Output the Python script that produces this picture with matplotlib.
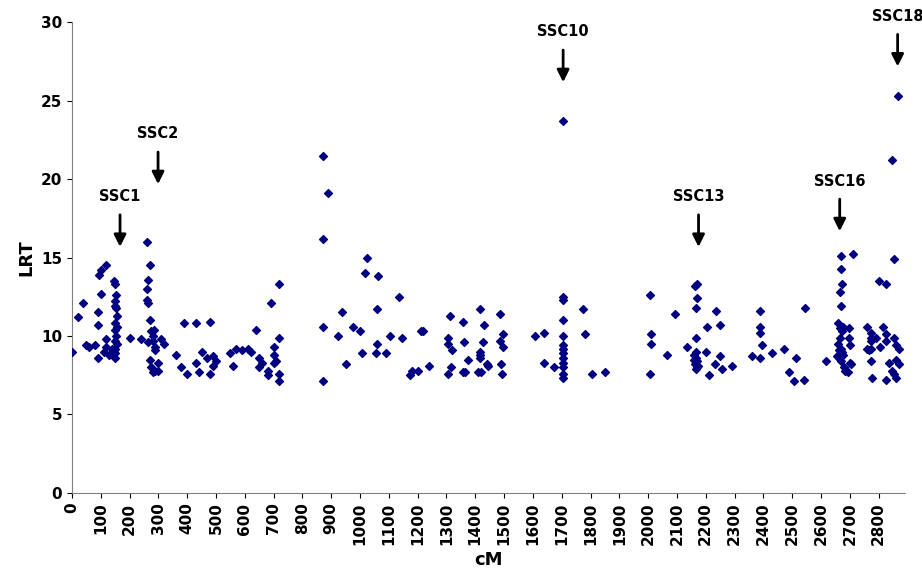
import matplotlib
matplotlib.use('Agg')
import matplotlib.pyplot as plt
import numpy as np

# cM positions and LRT values
cm = [0, 20, 40, 50, 60, 80, 90, 90, 90, 100, 95, 100, 120, 110, 120, 120, 130, 140, 150,
      145, 148, 150, 152, 155, 150, 148, 152, 150, 155, 150, 145, 150, 153, 148, 155,
      200, 240, 260, 260, 270, 265, 260, 265, 270, 280, 275, 280, 290, 290, 270, 275, 280, 290,
      300, 300, 310, 320, 265, 285,
      360, 380, 390, 400, 430, 430, 440, 450, 470, 480, 490, 490, 500, 480, 550, 560, 570,
      590, 610, 620, 640, 650, 650, 660, 680, 680, 690, 700, 700, 710, 720, 720, 720, 720, 700,
      871, 889, 871, 871, 871, 937, 922, 951, 975, 1000, 1008, 1018, 1024, 1055, 1060, 1062,
      1060, 1090, 1105, 1136, 1146, 1174, 1180, 1202, 1212, 1220, 1240,
      1307, 1307, 1312, 1320, 1307, 1315, 1358, 1362, 1358, 1365, 1375, 1417, 1430, 1417,
      1418, 1415, 1410, 1420, 1428, 1440, 1445, 1487, 1487, 1495, 1498, 1490, 1492,
      1608, 1638, 1638, 1675, 1706, 1706, 1706, 1706, 1706, 1706, 1706, 1706, 1706, 1706,
      1706, 1706, 1706, 1774, 1780, 1806, 1850,
      2008, 2010, 2009, 2008, 2067, 2095, 2162, 2168, 2170, 2165, 2237, 2206, 2251, 2165,
      2136, 2167, 2200, 2160, 2165, 2170, 2162, 2168, 2165, 2172, 2160, 2232, 2251, 2212,
      2256, 2290,
      2387, 2390, 2387, 2395, 2362, 2387, 2431, 2473, 2512, 2490, 2508, 2540, 2545,
      2668, 2710, 2670, 2672, 2665, 2670, 2660, 2665, 2672, 2678, 2697, 2697, 2700, 2619,
      2700, 2705, 2695, 2665, 2660, 2668, 2672, 2675, 2663, 2670, 2680, 2685, 2655, 2662,
      2761, 2800, 2758, 2765, 2775, 2775, 2772, 2775, 2775, 2777, 2790,
      2868, 2848, 2855, 2825, 2815, 2825, 2825, 2855, 2862, 2870, 2862, 2870, 2855, 2862,
      2825, 2845, 2805, 2835]
lrt = [9.0, 11.2, 12.1, 9.4, 9.3, 9.4, 8.6, 10.7, 11.5, 14.2, 13.9, 12.7, 14.5, 9.0, 9.8, 9.3,
       8.8, 9.2, 8.6, 13.5, 13.3, 12.2, 11.8, 11.3, 10.8, 10.4, 10.0, 9.7, 9.5, 9.2, 9.0, 8.9,
       12.6, 11.9, 10.6,
       9.9, 9.8, 16.0, 13.0, 14.5, 13.6, 12.3, 12.1, 11.0, 10.0, 10.3, 9.7, 9.1, 9.3, 8.5,
       8.0, 7.7, 7.8, 8.3, 7.8, 9.8, 9.5, 9.6, 10.4,
       8.8, 8.0, 10.8, 7.6, 10.8, 8.3, 7.7, 9.0, 8.6, 10.9, 8.1, 8.7, 8.4, 7.6, 8.9, 8.1, 9.2,
       9.1, 9.2, 9.0, 10.4, 8.6, 8.0, 8.3, 7.8, 7.5, 12.1, 8.8, 9.3, 8.4, 13.3, 9.9, 7.6, 7.1,
       8.3,
       21.5, 19.1, 16.2, 10.6, 7.1, 11.5, 10.0, 8.2, 10.6, 10.3, 8.9, 14.0, 15.0, 8.9, 11.7,
       13.8, 9.5, 8.9, 10.0, 12.5, 9.9, 7.5, 7.8, 7.8, 10.3, 10.3, 8.1,
       9.9, 9.5, 11.3, 9.1, 7.6, 8.0, 10.9, 9.6, 7.7, 7.7, 8.5, 11.7, 10.7, 9.0, 8.6, 8.8,
       7.7, 7.7, 9.6, 8.2, 8.1, 11.4, 9.7, 10.1, 9.3, 8.2, 7.6,
       10.0, 10.2, 8.3, 8.0, 23.7, 12.5, 12.3, 11.0, 10.0, 9.4, 9.2, 8.9, 8.6, 8.3, 8.0, 7.6,
       7.3, 11.7, 10.1, 7.6, 7.7,
       12.6, 10.1, 9.5, 7.6, 8.8, 11.4, 13.2, 13.3, 12.4, 11.8, 11.6, 10.6, 10.7, 9.9,
       9.3, 9.0, 9.0, 8.8, 8.6, 8.4, 8.2, 8.0, 7.9, 8.1, 8.5, 8.2, 8.7, 7.5, 7.9, 8.1,
       11.6, 10.6, 10.2, 9.4, 8.7, 8.6, 8.9, 9.2, 8.6, 7.7, 7.1, 7.2, 11.8,
       15.1, 15.2, 14.3, 13.3, 12.8, 11.9, 10.8, 10.5, 10.3, 10.6, 10.5, 9.9, 9.4, 8.4,
       8.3, 8.2, 7.7, 9.9, 9.5, 9.2, 9.0, 8.8, 8.6, 8.4, 8.0, 7.8, 8.7, 9.1,
       10.6, 13.5, 9.2, 9.1, 10.2, 9.9, 9.7, 9.2, 8.4, 7.3, 9.9,
       25.3, 21.2, 14.9, 13.3, 10.6, 10.1, 9.7, 9.9, 9.4, 9.2, 8.5, 8.2, 7.6, 7.3,
       7.2, 7.8, 9.3, 8.3]

labels = ['SSC1', 'SSC2', 'SSC10', 'SSC13', 'SSC16', 'SSC18']
label_cm = [167, 299, 1705, 2175, 2665, 2866]
label_head = [15.5, 19.5, 26.0, 15.5, 16.5, 27.0]

fig = plt.figure(figsize=(9.22, 5.84), dpi=100)
ax = fig.add_axes([0.078, 0.156, 0.904, 0.806])

ax.scatter(cm, lrt, marker='D', s=16, color='#000080', zorder=3)

for name, x, y in zip(labels, label_cm, label_head):
    ax.annotate('', xy=(x, y), xytext=(x, y + 2.4),
                arrowprops=dict(arrowstyle='-|>', color='black', lw=2, mutation_scale=18),
                annotation_clip=False)
    ax.text(x, y + 2.9, name, ha='center', va='bottom', fontsize=10.5,
            fontweight='bold', clip_on=False)

ax.set_xlim(0, 2893)
ax.set_ylim(0, 30)
ax.set_xticks(np.arange(0, 2900, 100))
ax.set_xticklabels([str(v) for v in range(0, 2900, 100)], rotation=90,
                   fontsize=11, fontweight='bold')
ax.set_yticks(np.arange(0, 31, 5))
ax.tick_params(axis='y', labelsize=11)
for t in ax.get_yticklabels():
    t.set_fontweight('bold')
ax.spines['top'].set_visible(False)
ax.spines['right'].set_visible(False)
ax.spines['left'].set_color('#808080')
ax.spines['bottom'].set_color('#808080')
ax.set_xlabel('cM', fontsize=13, fontweight='bold')
ax.set_ylabel('LRT', fontsize=13, fontweight='bold')

plt.savefig('out.png', dpi=100)
